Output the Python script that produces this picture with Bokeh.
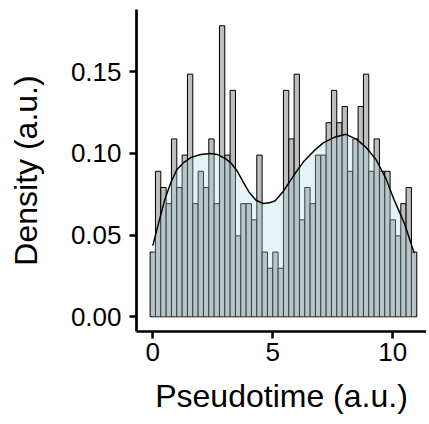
from bokeh.plotting import figure
from bokeh.models import Range1d, FixedTicker, PrintfTickFormatter
from bokeh.embed import file_html
from bokeh.resources import INLINE
import numpy as np

# Histogram (density) of pseudotime: 50 bins of width ~0.222, first bin centred at 0
bin_first_center = 0.0
bin_width = 0.2222
hist_density = [0.0396, 0.0890, 0.0791, 0.0692, 0.1088, 0.0791, 0.0989, 0.1484, 0.0692, 0.0890,
                0.0791, 0.1088, 0.0692, 0.1780, 0.0989, 0.1385, 0.0495, 0.0692, 0.0692, 0.0593,
                0.0989, 0.0396, 0.0297, 0.0396, 0.0297, 0.1385, 0.1088, 0.1484, 0.0593, 0.0791,
                0.0692, 0.0989, 0.0989, 0.1187, 0.1385, 0.1187, 0.1286, 0.0890, 0.1088, 0.1286,
                0.1484, 0.0890, 0.1088, 0.0890, 0.0890, 0.0593, 0.0495, 0.0692, 0.0791, 0.0396]

# Kernel density curve
dens_x = [0.0, 0.2, 0.5, 0.75, 1.0, 1.3, 1.6, 2.0, 2.4, 2.7, 3.0, 3.25, 3.5, 3.75, 4.0, 4.3,
          4.6, 4.85, 5.1, 5.45, 5.9, 6.3, 6.7, 7.1, 7.6, 8.05, 8.5, 8.9, 9.3, 9.7, 10.05,
          10.5, 10.89]
dens_y = [0.0435, 0.0550, 0.0717, 0.0820, 0.0900, 0.0945, 0.0975, 0.0993, 0.0999, 0.0992,
          0.0970, 0.0942, 0.0895, 0.0829, 0.0765, 0.0713, 0.0693, 0.0697, 0.0710, 0.0770,
          0.0870, 0.0952, 0.1013, 0.1064, 0.1100, 0.1116, 0.1085, 0.1034, 0.0962, 0.0850,
          0.0717, 0.0565, 0.0390]

x_ticks = [0, 5, 10]
y_ticks = [0.0, 0.05, 0.10, 0.15]

n = len(hist_density)
centers = bin_first_center + bin_width * np.arange(n)
lefts = centers - bin_width / 2
rights = centers + bin_width / 2

FONT = "Liberation Sans"

x_start = -0.679
frame_w = 290

p = figure(frame_width=frame_w, frame_height=322,
           x_range=Range1d(x_start, x_start + frame_w / 24.0), y_range=Range1d(-0.00899, 0.18795),
           output_backend="svg", toolbar_location=None,
           min_border_left=136, min_border_right=0, min_border_top=9, min_border_bottom=60)

p.quad(left=lefts, right=rights, bottom=0, top=hist_density,
       fill_color="#BEBEBE", line_color="black", line_width=1)
p.varea(x=dens_x, y1=0, y2=dens_y, fill_color="lightblue", fill_alpha=0.3)
p.line(dens_x, dens_y, line_color="black", line_width=1.5)

p.xgrid.visible = False
p.ygrid.visible = False
p.outline_line_color = None
p.background_fill_color = "white"
p.border_fill_color = "white"

for ax in (p.xaxis[0], p.yaxis[0]):
    ax.axis_line_color = "black"
    ax.axis_line_width = 2.7
    ax.major_tick_line_color = "black"
    ax.major_tick_line_width = 2.5
    ax.major_tick_out = 7
    ax.major_tick_in = 0
    ax.minor_tick_line_color = None
    ax.major_label_text_font = FONT
    ax.major_label_text_font_size = "26px"
    ax.major_label_text_color = "black"
    ax.axis_label_text_font = FONT
    ax.axis_label_text_font_size = "32px"
    ax.axis_label_text_font_style = "normal"
    ax.axis_label_text_color = "black"

p.xaxis[0].ticker = FixedTicker(ticks=x_ticks)
p.yaxis[0].ticker = FixedTicker(ticks=y_ticks)
p.yaxis[0].formatter = PrintfTickFormatter(format="%.2f")
p.xaxis[0].axis_label = "Pseudotime (a.u.)"
p.yaxis[0].axis_label = "Density (a.u.)"
p.xaxis[0].major_label_standoff = 4
p.yaxis[0].major_label_standoff = 8
p.xaxis[0].axis_label_standoff = 14
p.yaxis[0].axis_label_standoff = 24

open("out.html", "w").write(file_html(p, INLINE))
